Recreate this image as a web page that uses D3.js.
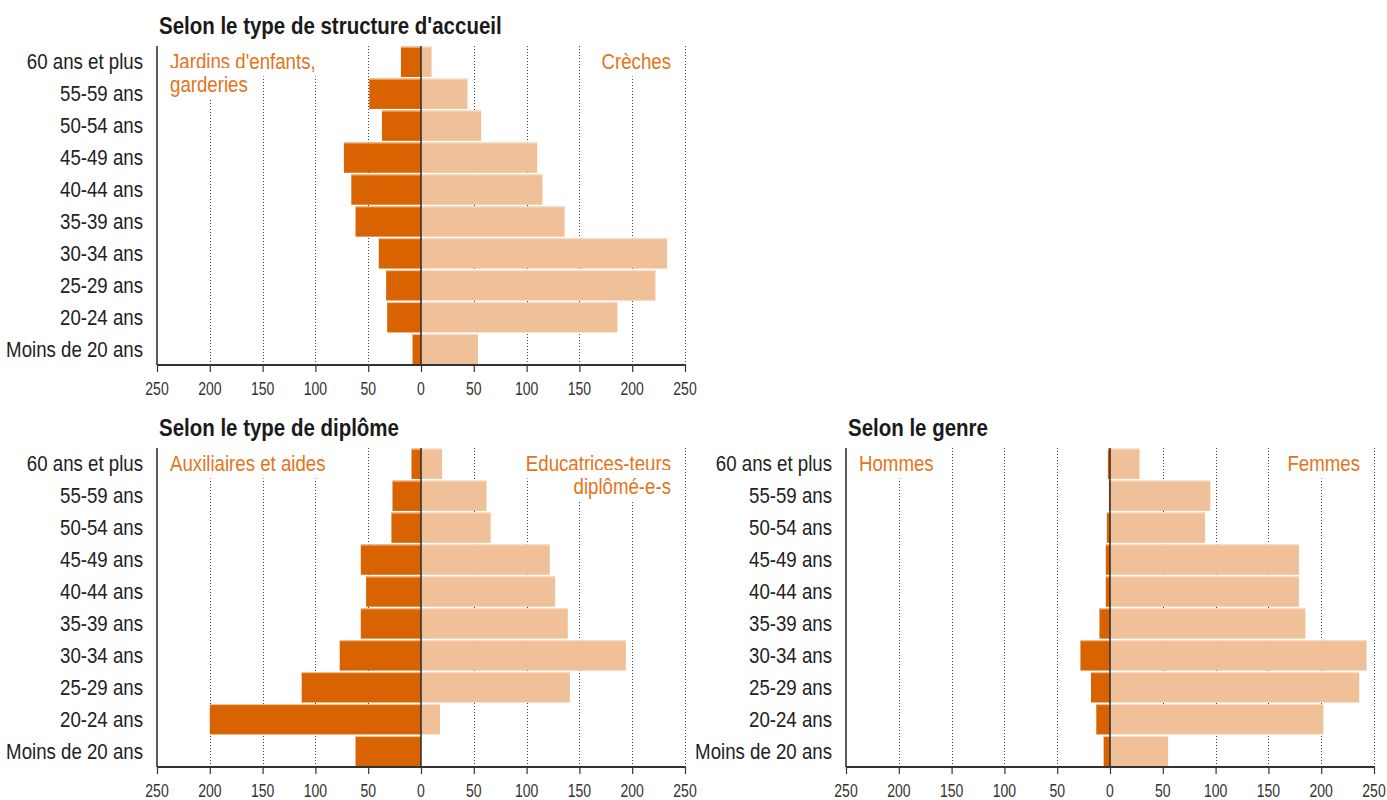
<!DOCTYPE html>
<html>
<head>
<meta charset="utf-8">
<script src="https://cdn.jsdelivr.net/npm/d3@7"></script>
<style>
  html, body { margin: 0; padding: 0; background: #fff; }
  svg { display: block; }
</style>
</head>
<body>
<svg id="chart" width="1387" height="800"></svg>
<script>
// ---------- DATA ----------
const ageGroups = ["60 ans et plus", "55-59 ans", "50-54 ans", "45-49 ans", "40-44 ans",
                   "35-39 ans", "30-34 ans", "25-29 ans", "20-24 ans", "Moins de 20 ans"];

// Selon le type de structure d'accueil
const jardins  = [19, 49, 37, 73, 66, 62, 40, 33, 32, 8];
const creches  = [10, 44, 57, 110, 115, 136, 233, 222, 186, 54];

// Selon le type de diplôme
const auxiliaires = [9, 27, 28, 57, 52, 57, 77, 113, 200, 62];
const educatrices = [20, 62, 66, 122, 127, 139, 194, 141, 18, 0];

// Selon le genre
const hommes = [2, 1, 3, 4, 4, 10, 28, 18, 13, 6];
const femmes = [28, 95, 90, 179, 179, 185, 243, 236, 202, 55];

const tickValues = [-250, -200, -150, -100, -50, 0, 50, 100, 150, 200, 250];

const titles = ["Selon le type de structure d'accueil", "Selon le type de diplôme", "Selon le genre"];
const leftNames  = [["Jardins d'enfants,", "garderies"], ["Auxiliaires et aides"], ["Hommes"]];
const rightNames = [["Crèches"], ["Educatrices-teurs", "diplômé-e-s"], ["Femmes"]];

// ---------- STYLE / LAYOUT ----------
const DARK = "#D96300";
const LIGHT = "#F0C199";
const LABEL_ORANGE = "#E4741C";
const TEXT = "#222";
const FONT = "'Liberation Sans', Arial, sans-serif";

const panels = [
  { left: jardins, right: creches, x0: 157, top: 46, titleIdx: 0 },
  { left: auxiliaires, right: educatrices, x0: 157, top: 448, titleIdx: 1 },
  { left: hommes, right: femmes, x0: 846, top: 448, titleIdx: 2 }
];
const plotW = 528, plotH = 319;

const svg = d3.select("#chart");

function addText(g, x, y, str, o) {
  const sx = o.sx || 0.83;
  return g.append("text")
    .attr("transform", `translate(${x},${y}) scale(${sx},1)`)
    .attr("text-anchor", o.anchor || "start")
    .style("font-family", FONT)
    .style("font-size", (o.size || 22.5) + "px")
    .style("font-weight", o.weight || "normal")
    .style("fill", o.fill || TEXT)
    .text(str);
}

panels.forEach(p => {
  const g = svg.append("g");
  const x = d3.scaleLinear().domain([-250, 250]).range([p.x0, p.x0 + plotW]);
  const y = d3.scaleBand().domain(ageGroups).range([p.top, p.top + plotH]).paddingInner(0.05).paddingOuter(0.02);
  const bottom = p.top + plotH;

  // Title
  addText(g, p.x0 + 2, p.top - 12, titles[p.titleIdx], { size: 23, weight: "bold", sx: 0.89, fill: "#1a1a1a" });

  // Gridlines (dotted)
  g.append("g").selectAll("line")
    .data(tickValues.filter(v => v !== 0 && v !== -250))
    .join("line")
    .attr("x1", d => Math.round(x(d)) + 0.5).attr("x2", d => Math.round(x(d)) + 0.5)
    .attr("y1", p.top).attr("y2", bottom)
    .attr("stroke", "#444").attr("stroke-width", 1)
    .attr("stroke-dasharray", "1,2");

  // Series labels with white backgrounds masking gridlines
  function seriesLabel(lines, xPos, anchor) {
    lines.forEach((s, i) => {
      const by = p.top + 23 + i * 23;
      const lg = g.append("g");
      const t = addText(lg, xPos, by, s, { fill: LABEL_ORANGE, anchor });
      const bb = t.node().getBBox();
      const sx = 0.83;
      lg.insert("rect", "text")
        .attr("x", xPos + bb.x * sx - 3)
        .attr("y", by - 24)
        .attr("width", bb.width * sx + 6)
        .attr("height", 31.5)
        .attr("fill", "#fff");
    });
  }
  seriesLabel(leftNames[p.titleIdx], p.x0 + 13, "start");
  seriesLabel(rightNames[p.titleIdx], p.x0 + plotW - 14, "end");

  // Bars left
  const bh = y.bandwidth();
  g.append("g").selectAll("rect")
    .data(p.left.map((v, i) => ({ v, a: ageGroups[i] })))
    .join("rect")
    .attr("x", d => x(-d.v)).attr("y", d => y(d.a))
    .attr("width", d => x(0) - x(-d.v)).attr("height", bh)
    .attr("fill", DARK);
  g.append("g").selectAll("rect")
    .data(p.left.map((v, i) => ({ v, a: ageGroups[i] })))
    .join("rect")
    .attr("x", d => x(-d.v)).attr("y", d => y(d.a))
    .attr("width", d => x(0) - x(-d.v)).attr("height", 1)
    .attr("fill", "#F3C9A6");

  // Bars right
  g.append("g").selectAll("rect")
    .data(p.right.map((v, i) => ({ v, a: ageGroups[i] })))
    .join("rect")
    .attr("x", x(0)).attr("y", d => y(d.a))
    .attr("width", d => x(d.v) - x(0)).attr("height", bh)
    .attr("fill", LIGHT);
  g.append("g").selectAll("rect")
    .data(p.right.map((v, i) => ({ v, a: ageGroups[i] })))
    .join("rect")
    .attr("x", x(0)).attr("y", d => y(d.a))
    .attr("width", d => x(d.v) - x(0)).attr("height", 1)
    .attr("fill", "#F8DFC9");

  // Zero line
  g.append("line")
    .attr("x1", x(0)).attr("x2", x(0))
    .attr("y1", p.top).attr("y2", bottom)
    .attr("stroke", "#333").attr("stroke-width", 1.6);

  // Left axis line
  g.append("line")
    .attr("x1", x(-250)).attr("x2", x(-250))
    .attr("y1", p.top).attr("y2", bottom)
    .attr("stroke", "#333").attr("stroke-width", 1.6);

  // Row labels
  ageGroups.forEach(a => {
    addText(g, p.x0 - 14, y(a) + y.bandwidth() / 2 + 7.5, a, { anchor: "end" });
  });

  // Bottom axis
  const axis = d3.axisBottom(x).tickValues(tickValues).tickSize(7).tickFormat(d => Math.abs(d));
  const ax = g.append("g").attr("transform", `translate(0,${bottom})`).call(axis);
  ax.select(".domain").attr("stroke", "#333").attr("stroke-width", 2.2).attr("d", `M${x(-250)},0H${x(250)}`);
  ax.selectAll(".tick line").attr("stroke", "#333").attr("stroke-width", 1.2);
  ax.selectAll(".tick text").remove();
  tickValues.forEach(v => {
    addText(g, x(v), bottom + 30, String(Math.abs(v)), { anchor: "middle", size: 17.5, sx: 0.8, fill: "#333" });
  });
});
</script>
</body>
</html>
